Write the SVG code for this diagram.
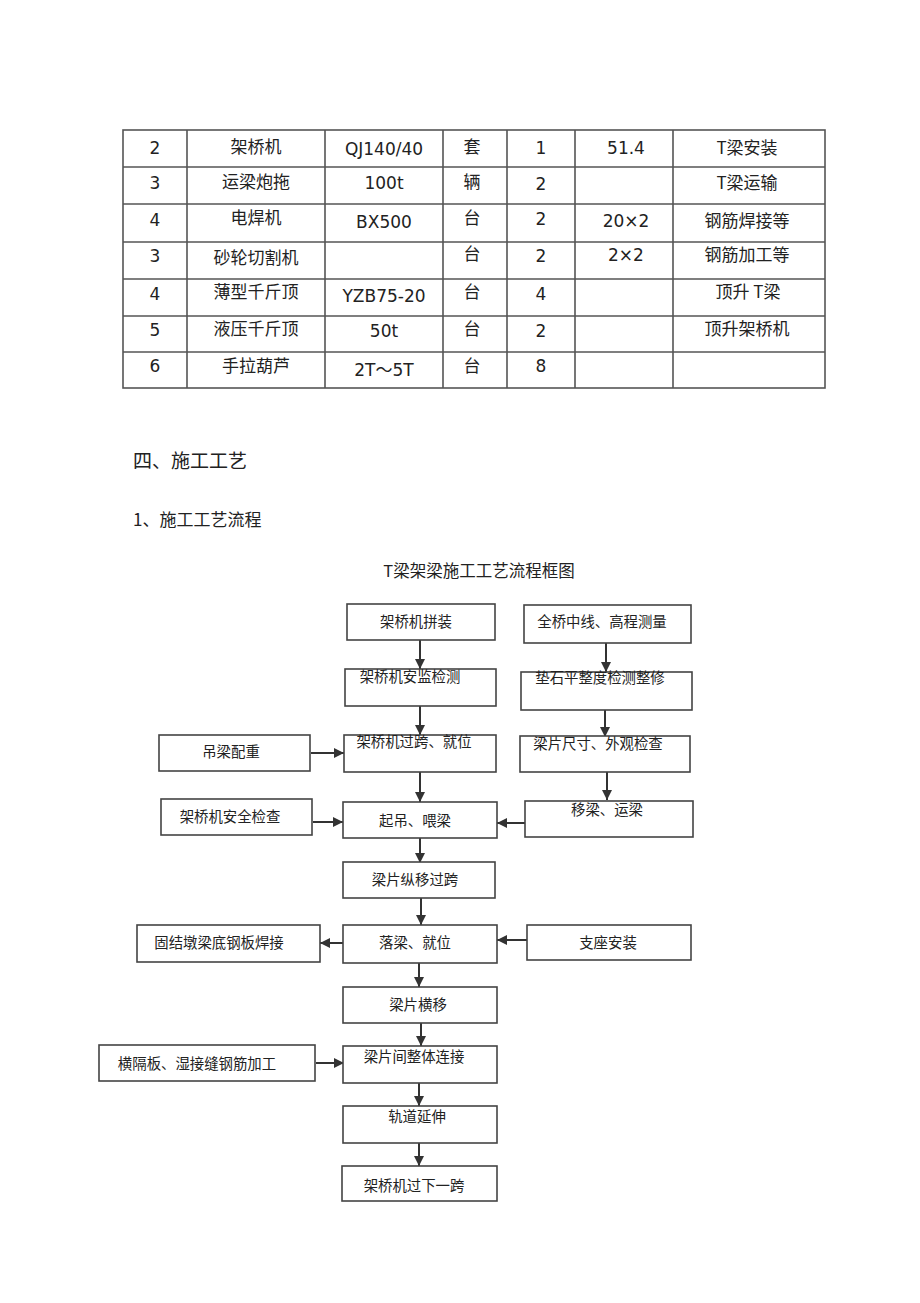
<svg xmlns="http://www.w3.org/2000/svg" width="920" height="1303" viewBox="0 0 920 1303">
<style>
.bg{fill:#fff}
.tl{stroke:#555;stroke-width:1.6;fill:none}
.tn{font-family:"DejaVu Sans","Noto Sans CJK SC",sans-serif;font-size:17px;fill:#222;text-anchor:middle}
.tc{font-family:"Noto Sans CJK SC",sans-serif;font-size:17px;fill:#222;text-anchor:middle}
.h{font-family:"Noto Sans CJK SC",sans-serif;fill:#222}
.box{fill:#fff;stroke:#444;stroke-width:1.6}
.bt{font-family:"Noto Sans CJK SC",sans-serif;font-size:14.4px;fill:#222;text-anchor:middle}
.ar{stroke:#333;stroke-width:2;fill:none;marker-end:url(#ah)}
</style>
<defs>
<marker id="ah" markerUnits="userSpaceOnUse" markerWidth="10" markerHeight="10" refX="10" refY="5" orient="auto">
<path d="M0,0 L10,5 L0,10 z" fill="#333"/>
</marker>
</defs>
<rect class="bg" x="0" y="0" width="920" height="1303"/>

<g id="table">
<rect class="tl" x="123" y="130" width="702" height="258"/>
<path class="tl" d="M187,130V388 M325,130V388 M443,130V388 M507,130V388 M575,130V388 M673,130V388 M123,167H825 M123,204H825 M123,242H825 M123,279H825 M123,316H825 M123,352H825"/>
<text class="tn" x="155" y="154">2</text>
<text class="tc" x="256" y="153">架桥机</text>
<text class="tn" x="384" y="155">QJ140/40</text>
<text class="tc" x="472" y="153">套</text>
<text class="tn" x="541" y="154">1</text>
<text class="tn" x="626" y="154">51.4</text>
<text class="tc" x="747" y="154">T梁安装</text>

<text class="tn" x="155" y="189">3</text>
<text class="tc" x="256" y="188">运梁炮拖</text>
<text class="tn" x="384" y="189">100t</text>
<text class="tc" x="472" y="188">辆</text>
<text class="tn" x="541" y="190">2</text>
<text class="tc" x="747" y="189">T梁运输</text>

<text class="tn" x="155" y="226">4</text>
<text class="tc" x="256" y="224">电焊机</text>
<text class="tn" x="384" y="228">BX500</text>
<text class="tc" x="472" y="224">台</text>
<text class="tn" x="541" y="225">2</text>
<text class="tn" x="626" y="227">20×2</text>
<text class="tc" x="747" y="227">钢筋焊接等</text>

<text class="tn" x="155" y="262">3</text>
<text class="tc" x="256" y="264">砂轮切割机</text>
<text class="tc" x="472" y="260">台</text>
<text class="tn" x="541" y="262">2</text>
<text class="tn" x="626" y="261">2×2</text>
<text class="tc" x="747" y="261">钢筋加工等</text>

<text class="tn" x="155" y="300">4</text>
<text class="tc" x="256" y="298">薄型千斤顶</text>
<text class="tn" x="384" y="302">YZB75-20</text>
<text class="tc" x="472" y="298">台</text>
<text class="tn" x="541" y="300">4</text>
<text class="tc" x="748" y="298">顶升 T梁</text>

<text class="tn" x="155" y="336">5</text>
<text class="tc" x="256" y="335">液压千斤顶</text>
<text class="tn" x="384" y="337">50t</text>
<text class="tc" x="472" y="335">台</text>
<text class="tn" x="541" y="337">2</text>
<text class="tc" x="747" y="335">顶升架桥机</text>

<text class="tn" x="155" y="372">6</text>
<text class="tc" x="256" y="372">手拉葫芦</text>
<text class="tn" x="384" y="376">2T～5T</text>
<text class="tc" x="472" y="372">台</text>
<text class="tn" x="541" y="372">8</text>
</g>

<g id="headings">
<text class="h" x="133" y="468" font-size="19">四、施工工艺</text>
<text class="h" x="133" y="526" font-size="17">1、施工工艺流程</text>
<text class="h" x="479" y="577" font-size="16.5" text-anchor="middle">T梁架梁施工工艺流程框图</text>
</g>

<g id="connectors">
<line class="ar" x1="420" y1="640" x2="420" y2="669"/>
<line class="ar" x1="606" y1="643" x2="606" y2="672"/>
<line class="ar" x1="420" y1="706" x2="420" y2="735"/>
<line class="ar" x1="605" y1="710" x2="605" y2="737"/>
<line class="ar" x1="420" y1="772" x2="420" y2="802"/>
<line class="ar" x1="607" y1="772" x2="607" y2="800"/>
<line class="ar" x1="311" y1="753" x2="344" y2="753"/>
<line class="ar" x1="313" y1="822" x2="343" y2="822"/>
<line class="ar" x1="525" y1="823" x2="497" y2="823"/>
<line class="ar" x1="420" y1="838" x2="420" y2="863"/>
<line class="ar" x1="421" y1="898" x2="421" y2="925"/>
<line class="ar" x1="344" y1="943" x2="320" y2="943"/>
<line class="ar" x1="528" y1="940" x2="497" y2="940"/>
<line class="ar" x1="419" y1="963" x2="419" y2="987"/>
<line class="ar" x1="421" y1="1023" x2="421" y2="1046"/>
<line class="ar" x1="316" y1="1063" x2="344" y2="1063"/>
<line class="ar" x1="419" y1="1083" x2="419" y2="1106"/>
<line class="ar" x1="419" y1="1143" x2="419" y2="1166"/>
</g>

<g id="nA"><rect class="box" x="347" y="604" width="148" height="36"/><text class="bt" x="416" y="627">架桥机拼装</text></g>
<g id="nB"><rect class="box" x="524" y="605" width="167" height="38"/><text class="bt" x="602" y="627">全桥中线、高程测量</text></g>
<g id="nC"><rect class="box" x="345" y="669" width="151" height="37"/><text class="bt" x="410" y="682">架桥机安监检测</text></g>
<g id="nD"><rect class="box" x="521" y="672" width="171" height="38"/><text class="bt" x="600" y="683">垫石平整度检测整修</text></g>
<g id="nE"><rect class="box" x="159" y="735" width="151" height="36"/><text class="bt" x="231" y="757">吊梁配重</text></g>
<g id="nF"><rect class="box" x="344" y="735" width="152" height="37"/><text class="bt" x="414" y="747">架桥机过跨、就位</text></g>
<g id="nG"><rect class="box" x="520" y="736" width="170" height="36"/><text class="bt" x="598" y="749">梁片尺寸、外观检查</text></g>
<g id="nH"><rect class="box" x="161" y="799" width="151" height="36"/><text class="bt" x="230" y="822">架桥机安全检查</text></g>
<g id="nI"><rect class="box" x="343" y="802" width="154" height="36"/><text class="bt" x="415" y="826">起吊、喂梁</text></g>
<g id="nJ"><rect class="box" x="525" y="801" width="168" height="36"/><text class="bt" x="607" y="815">移梁、运梁</text></g>
<g id="nK"><rect class="box" x="343" y="862" width="152" height="36"/><text class="bt" x="415" y="885">梁片纵移过跨</text></g>
<g id="nL"><rect class="box" x="137" y="925" width="183" height="37"/><text class="bt" x="219" y="948">固结墩梁底钢板焊接</text></g>
<g id="nM"><rect class="box" x="343" y="925" width="154" height="38"/><text class="bt" x="415" y="948">落梁、就位</text></g>
<g id="nN"><rect class="box" x="527" y="925" width="164" height="35"/><text class="bt" x="608" y="948">支座安装</text></g>
<g id="nO"><rect class="box" x="343" y="987" width="154" height="36"/><text class="bt" x="418" y="1010">梁片横移</text></g>
<g id="nP"><rect class="box" x="99" y="1045" width="216" height="36"/><text class="bt" x="197" y="1069">横隔板、湿接缝钢筋加工</text></g>
<g id="nQ"><rect class="box" x="343" y="1046" width="154" height="37"/><text class="bt" x="414" y="1062">梁片间整体连接</text></g>
<g id="nR"><rect class="box" x="343" y="1106" width="154" height="37"/><text class="bt" x="417" y="1122">轨道延伸</text></g>
<g id="nS"><rect class="box" x="342" y="1166" width="155" height="35"/><text class="bt" x="414" y="1191">架桥机过下一跨</text></g>
</svg>
